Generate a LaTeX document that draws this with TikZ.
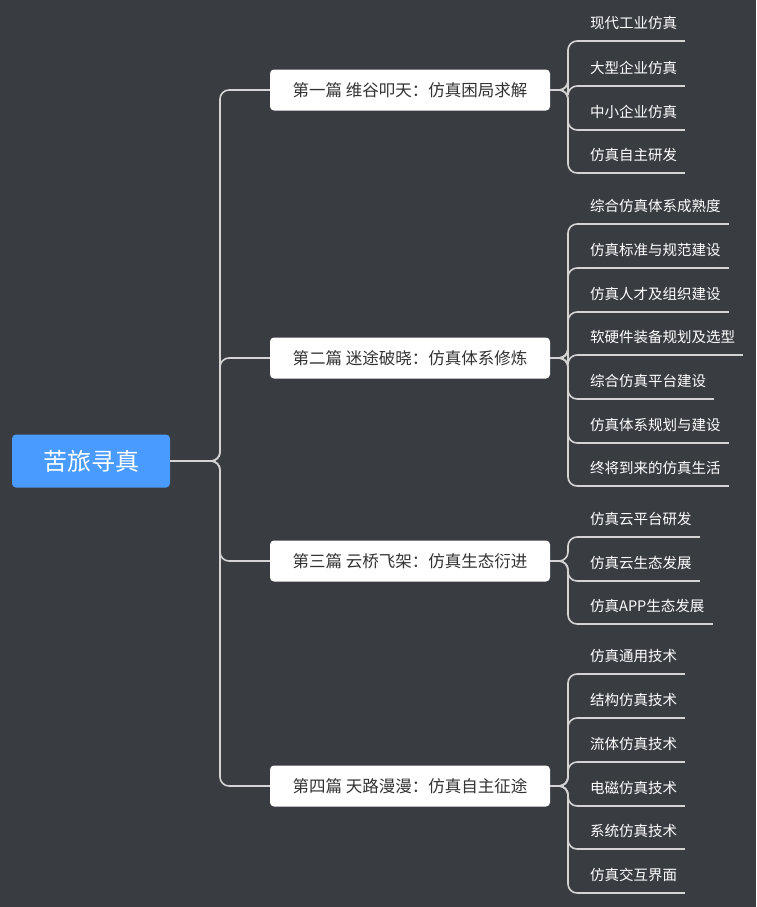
\documentclass[tikz,border=0pt]{standalone}
\usepackage{fontspec}
\newfontfamily\cjk{Noto Sans CJK SC}
\definecolor{bg}{HTML}{393C41}
\definecolor{ln}{HTML}{D4D4D4}
\definecolor{rootc}{HTML}{4A9BFF}
\definecolor{tx}{HTML}{333333}
\tikzset{
 rootbox/.style={fill=rootc,rounded corners=4pt,minimum width=158pt,minimum height=53pt,text=white,font=\cjk\fontsize{24}{28}\selectfont},
 topic/.style={fill=white,rounded corners=4pt,minimum width=280pt,minimum height=41pt,text=tx,font=\cjk\fontsize{16.5}{19}\selectfont},
 leaf/.style={anchor=south west,inner sep=0pt,text=white,font=\cjk\fontsize{14.5}{17}\selectfont,text depth=0pt},
 conn/.style={draw=ln,line width=1.6pt,rounded corners=9pt},
}
\newcommand{\leafnode}[3]{%
 \node[leaf] (#1) at (590,#2-12) {#3};
 \coordinate (#1s) at (580,#2);
 \coordinate (#1e) at ([xshift=8pt]#1.east |- 0,#2);
 \draw[ln,line width=1.6pt] (#1s) -- (#1e);}
\begin{document}
\begin{tikzpicture}[x=1pt,y=-1pt]
\fill[bg] (0,0) rectangle (756,907);
\useasboundingbox (0,0) rectangle (756,907);
\node[rootbox] (root) at (91,461) {苦旅寻真};
\node[topic] (t1) at (410,90) {第一篇 维谷叩天：仿真困局求解};
\node[topic] (t2) at (410,358) {第二篇 迷途破晓：仿真体系修炼};
\node[topic] (t3) at (410,561) {第三篇 云桥飞架：仿真生态衍进};
\node[topic] (t4) at (410,786) {第四篇 天路漫漫：仿真自主征途};
\foreach \t in {t1,t2,t3,t4} \draw[conn] (root.east) -- (220,461) |- (\t.west);
\leafnode{a1}{41}{现代工业仿真}
\leafnode{a2}{86}{大型企业仿真}
\leafnode{a3}{130}{中小企业仿真}
\leafnode{a4}{173}{仿真自主研发}
\foreach \l in {a1,a2,a3,a4} \draw[conn] (t1.east) -- (568,90) |- (\l s);
\leafnode{b1}{224}{综合仿真体系成熟度}
\leafnode{b2}{268}{仿真标准与规范建设}
\leafnode{b3}{312}{仿真人才及组织建设}
\leafnode{b4}{355}{软硬件装备规划及选型}
\leafnode{b5}{399}{综合仿真平台建设}
\leafnode{b6}{443}{仿真体系规划与建设}
\leafnode{b7}{486}{终将到来的仿真生活}
\foreach \l in {b1,b2,b3,b4,b5,b6,b7} \draw[conn] (t2.east) -- (568,358) |- (\l s);
\leafnode{c1}{537}{仿真云平台研发}
\leafnode{c2}{581}{仿真云生态发展}
\leafnode{c3}{624}{仿真APP生态发展}
\foreach \l in {c1,c2,c3} \draw[conn] (t3.east) -- (568,561) |- (\l s);
\leafnode{d1}{674}{仿真通用技术}
\leafnode{d2}{718}{结构仿真技术}
\leafnode{d3}{762}{流体仿真技术}
\leafnode{d4}{806}{电磁仿真技术}
\leafnode{d5}{849}{系统仿真技术}
\leafnode{d6}{893}{仿真交互界面}
\foreach \l in {d1,d2,d3,d4,d5,d6} \draw[conn] (t4.east) -- (568,786) |- (\l s);
\end{tikzpicture}
\end{document}
